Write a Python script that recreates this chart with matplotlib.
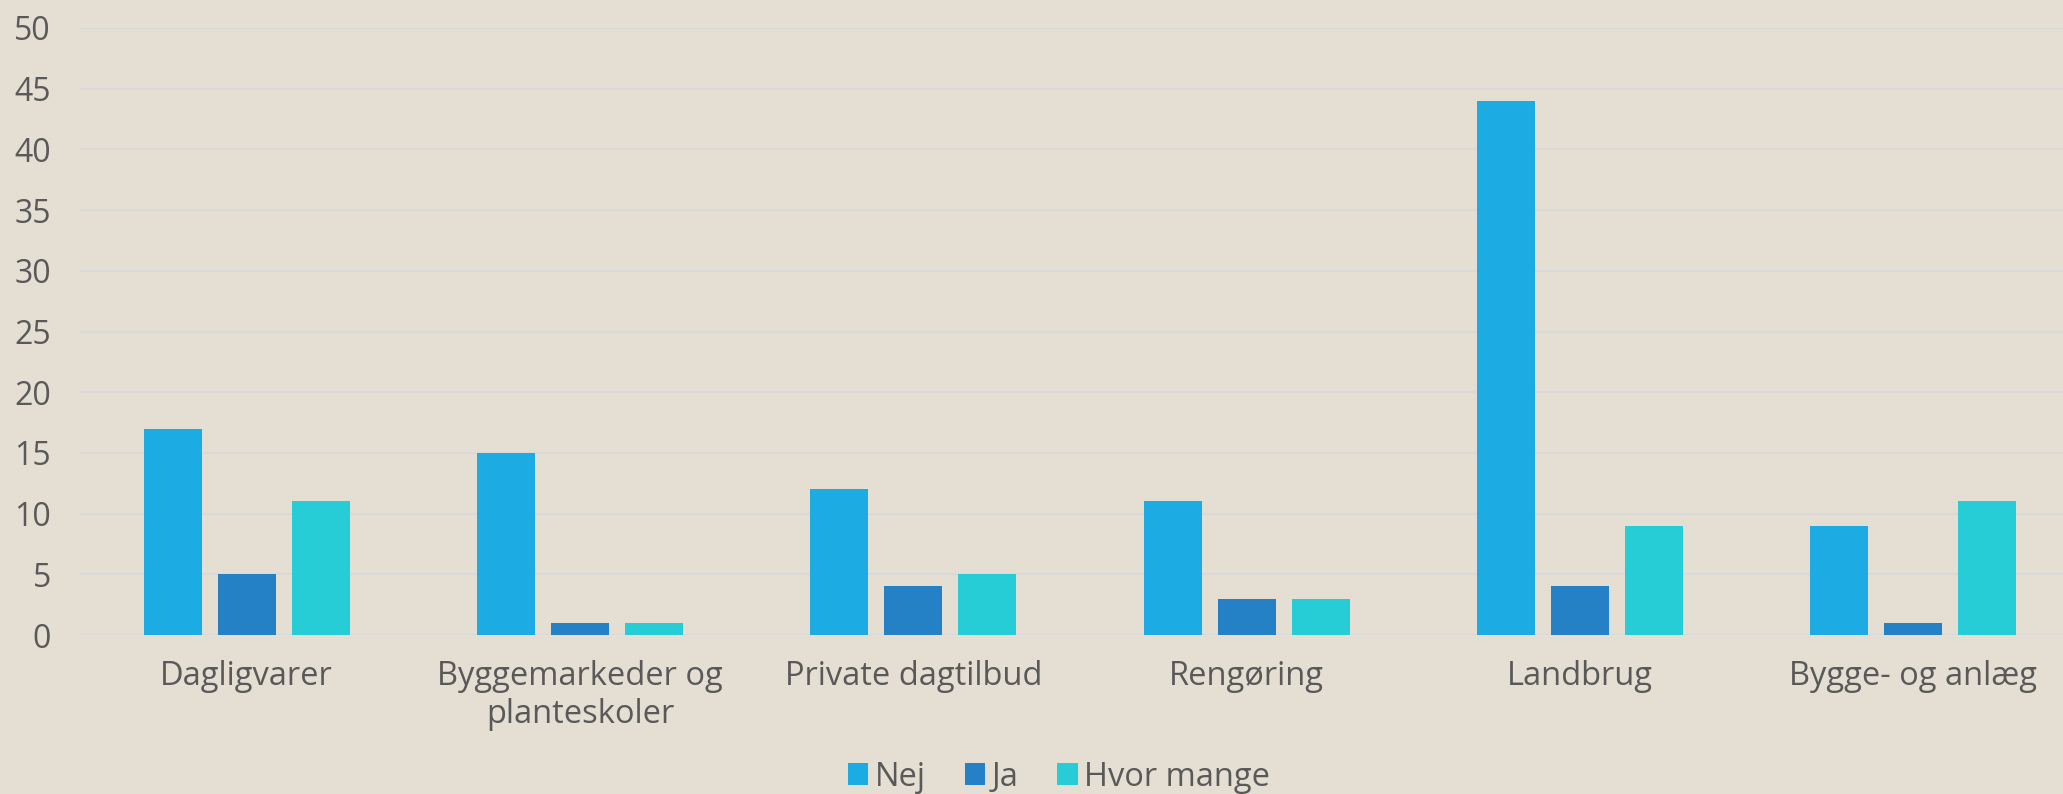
import numpy as np
import matplotlib.pyplot as plt

categories = ["Dagligvarer", "Byggemarkeder og\nplanteskoler", "Private dagtilbud",
              "Rengøring", "Landbrug", "Bygge- og anlæg"]
nej = [17, 15, 12, 11, 44, 9]
ja = [5, 1, 4, 3, 4, 1]
hvor_mange = [11, 1, 5, 3, 9, 11]

bg = "#E4DED3"
txt = "#595959"
plt.rcParams["font.family"] = ["Open Sans", "DejaVu Sans"]

fig = plt.figure(figsize=(20.63, 7.94), dpi=100, facecolor=bg)
ax = fig.add_axes([80 / 2063, 159 / 794, 2000 / 2063, 607 / 794])
ax.set_facecolor(bg)

x = np.arange(len(categories))
w = 0.174
step = 0.222
ax.bar(x - step, nej, w, color="#1CACE3", label="Nej", zorder=3)
ax.bar(x, ja, w, color="#2481C6", label="Ja", zorder=3)
ax.bar(x + step, hvor_mange, w, color="#26CCD6", label="Hvor mange", zorder=3)

ax.set_xlim(-0.5, len(categories) - 0.5)
ax.set_ylim(0, 50)
ax.set_yticks(range(0, 51, 5))
ax.yaxis.grid(True, color="#D9DAD7", linewidth=1.5, zorder=0)
for s in ax.spines.values():
    s.set_visible(False)

ax.set_xticks(x)
ax.set_xticklabels(categories, linespacing=1.2)
ax.tick_params(axis="x", length=0, pad=18, labelsize=23.5, labelcolor=txt)
ax.tick_params(axis="y", length=0, pad=21, labelsize=23, labelcolor=txt)

fig.legend(loc="center", bbox_to_anchor=(1059 / 2063, 17 / 794), ncol=3, frameon=False,
           fontsize=23.5, labelcolor=txt, handlelength=0.62, handleheight=0.62,
           handletextpad=0.2, columnspacing=1.2)

plt.savefig("out.png", dpi=100, facecolor=bg)
